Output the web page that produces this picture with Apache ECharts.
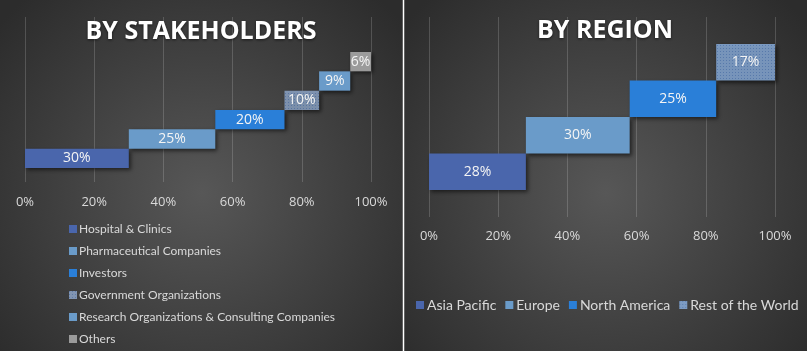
<!DOCTYPE html>
<html>
<head>
<meta charset="utf-8">
<script src="https://cdn.jsdelivr.net/npm/echarts@6/dist/echarts.min.js"></script>
<style>
  html, body { margin: 0; padding: 0; background: #333; }
  #main { width: 807px; height: 351px; }
</style>
</head>
<body>
<div id="main"></div>
<script>
    var stakeholderNames = ['Hospital & Clinics', 'Pharmaceutical Companies', 'Investors',
        'Government Organizations', 'Research Organizations & Consulting Companies', 'Others'];
    var stakeholderShares = [30, 25, 20, 10, 9, 6];

    var regionNames = ['Asia Pacific', 'Europe', 'North America', 'Rest of the World'];
    var regionShares = [28, 30, 25, 17];

    var axisTicks = [0, 20, 40, 60, 80, 100];

    var stakeholderColors = ['#4a66ac', '#6a9bc9', '#2a7fd8', '#8195b2', '#6a9bc9', '#9b9b9b'];
    var regionColors = ['#4a66ac', '#6a9bc9', '#2a7fd8', '#7c9bc2'];

    var dotted = {
        symbol: 'rect',
        symbolSize: 1,
        dashArrayX: [1, 2],
        dashArrayY: [1, 2],
        color: 'rgba(40,80,150,0.4)'
    };

    function init() {
        var myChart = echarts.init(document.getElementById('main'));

        var labelFont = 'Open Sans';
        var gridLine = {show: true, lineStyle: {color: 'rgba(255,255,255,0.17)', width: 1}};

        // invisible offsets so each bar starts where the previous one ended
        function offsets(vals) {
            var out = [], sum = 0;
            for (var i = 0; i < vals.length; i++) {
                out.push(sum);
                sum += vals[i];
            }
            return out;
        }

        function buildSeries(names, vals, colors, xIdx, yIdx, stack, patternAt) {
            var list = [{
                type: 'bar',
                stack: stack,
                xAxisIndex: xIdx,
                yAxisIndex: yIdx,
                barCategoryGap: '0%',
                itemStyle: {color: 'transparent'},
                silent: true,
                data: offsets(vals)
            }];
            names.forEach(function (n, i) {
                var d = vals.map(function (v, j) { return j === i ? v : '-'; });
                var style = {
                    color: colors[i],
                    shadowBlur: 4,
                    shadowOffsetX: 2,
                    shadowOffsetY: 2,
                    shadowColor: 'rgba(0,0,0,0.55)'
                };
                if (i === patternAt) style.decal = dotted;
                list.push({
                    name: n,
                    type: 'bar',
                    stack: stack,
                    xAxisIndex: xIdx,
                    yAxisIndex: yIdx,
                    barCategoryGap: '0%',
                    itemStyle: style,
                    label: {
                        show: true,
                        position: 'inside',
                        formatter: '{c}%',
                        color: '#f4f4f4',
                        fontFamily: labelFont,
                        fontSize: 14
                    },
                    data: d
                });
            });
            return list;
        }

        function valueAxis(gridIndex, showLabels, margin) {
            return {
                type: 'value',
                gridIndex: gridIndex,
                min: axisTicks[0],
                max: axisTicks[axisTicks.length - 1],
                interval: axisTicks[1] - axisTicks[0],
                axisLine: {show: false},
                axisTick: {show: false},
                splitLine: showLabels ? gridLine : {show: false},
                axisLabel: {
                    show: showLabels,
                    formatter: '{value}%',
                    color: '#d9d9d9',
                    fontFamily: labelFont,
                    fontSize: 13,
                    margin: margin
                }
            };
        }

        function catAxis(gridIndex, names) {
            return {
                type: 'category',
                gridIndex: gridIndex,
                data: names,
                show: false
            };
        }

        var series = []
            .concat(buildSeries(stakeholderNames, stakeholderShares, stakeholderColors, 1, 1, 'left', 3))
            .concat(buildSeries(regionNames, regionShares, regionColors, 3, 3, 'right', 3));

        var bg = function (x) {
            return {
                type: 'rect',
                silent: true,
                z: -10,
                shape: {x: x, y: 0, width: 403, height: 351},
                style: {
                    fill: {
                        type: 'radial', x: 0.5, y: 0.55, r: 0.75,
                        colorStops: [
                            {offset: 0, color: '#575757'},
                            {offset: 1, color: '#2c2c2c'}
                        ]
                    }
                }
            };
        };

        var titleStyle = {
            color: '#fff', fontSize: 25, fontWeight: 'bold', fontFamily: labelFont,
            textShadowBlur: 3, textShadowColor: 'rgba(0,0,0,0.6)', textShadowOffsetY: 1
        };

        var option = {
            animation: false,
            backgroundColor: '#333',
            textStyle: {fontFamily: labelFont},
            title: [{
                text: 'BY STAKEHOLDERS',
                left: 201,
                top: 19,
                textAlign: 'center',
                padding: 0,
                textStyle: titleStyle
            }, {
                text: 'BY REGION',
                left: 605,
                top: 18,
                textAlign: 'center',
                padding: 0,
                textStyle: titleStyle
            }],
            graphic: [
                bg(0),
                bg(404),
                {
                    type: 'line',
                    silent: true,
                    shape: {x1: 403.5, y1: 0, x2: 403.5, y2: 351},
                    style: {stroke: '#ffffff', lineWidth: 1.5}
                }
            ],
            legend: [{
                orient: 'vertical',
                left: 69,
                top: 222,
                height: 130,
                padding: 0,
                itemWidth: 8,
                itemHeight: 8,
                itemGap: 8,
                icon: 'rect',
                data: stakeholderNames,
                textStyle: {color: '#d9d9d9', fontSize: 12, fontFamily: 'Lato', lineHeight: 14, padding: [0, 0, 0, -3]}
            }, {
                orient: 'horizontal',
                left: 416,
                top: 298,
                padding: 0,
                itemWidth: 8,
                itemHeight: 8,
                itemGap: 9,
                icon: 'rect',
                data: regionNames,
                textStyle: {color: '#d9d9d9', fontSize: 14, fontFamily: 'Lato', lineHeight: 14, padding: [0, 0, 0, -2]}
            }],
            grid: [
                {left: 25, width: 346, top: 17, height: 165},
                {left: 25, width: 346, top: 52, height: 116},
                {left: 429, width: 346, top: 17, height: 200},
                {left: 429, width: 346, top: 44, height: 146}
            ],
            xAxis: [
                valueAxis(0, true, 14),
                valueAxis(1, false, 0),
                valueAxis(2, true, 13),
                valueAxis(3, false, 0)
            ],
            yAxis: [
                catAxis(0, stakeholderNames),
                catAxis(1, stakeholderNames),
                catAxis(2, regionNames),
                catAxis(3, regionNames)
            ],
            series: series
        };
        myChart.setOption(option);
    }

    init();
</script>
</body>
</html>
